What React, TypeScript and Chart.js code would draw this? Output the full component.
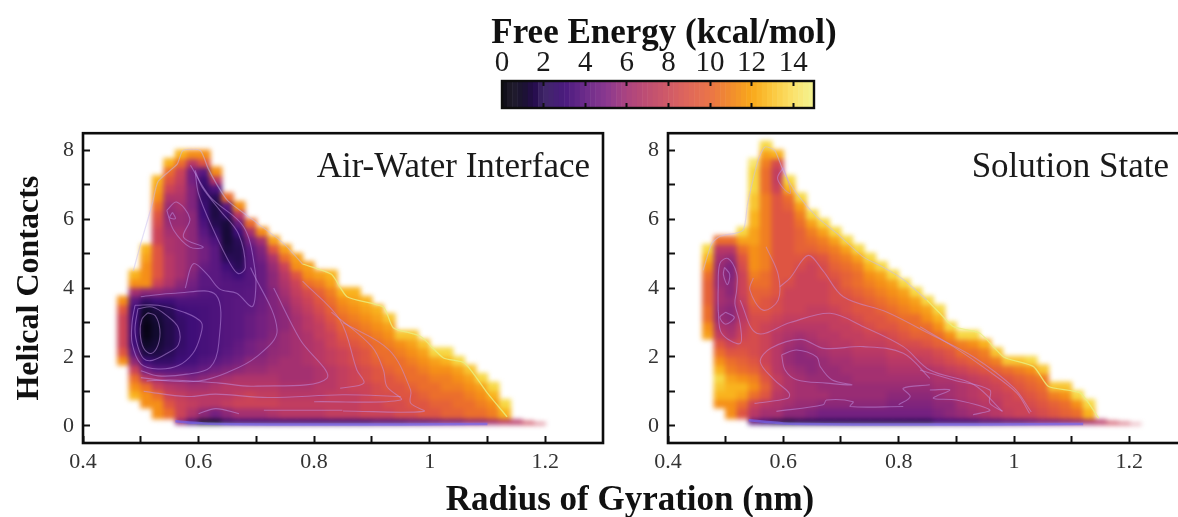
import React, { useEffect, useRef } from "react";
import { Chart, registerables } from "chart.js";
Chart.register(...registerables);

const SERIF = '"Liberation Serif", serif';

// ---------- axes ----------
const xTickValues = [0.4,0.5,0.6,0.7,0.8,0.9,1,1.1,1.2];
const yTickValues = [0,1,2,3,4,5,6,7,8];
const colorTickValues = [0,2,4,6,8,10,12,14];

// ---------- colour bar ----------
const colorLevels = [0,0.25,0.5,0.75,1,1.25,1.5,1.75,2,2.25,2.5,2.75,3,3.25,3.5,3.75,4,4.25,4.5,4.75,5,5.25,5.5,5.75,6,6.25,6.5,6.75,7,7.25,7.5,7.75,8,8.25,8.5,8.75,9,9.25,9.5,9.75,10,10.25,10.5,10.75,11,11.25,11.5,11.75,12,12.25,12.5,12.75,13,13.25,13.5,13.75,14,14.25,14.5,14.75];
const stopValues = [0,0.5,1,1.6,2,3,4,5,6,7,8,9,10,11,12,13,14,15];
const stopColors = ["#0c0a14","#211d2c","#1a1230","#260c4e","#402868","#4a1a7e","#6c2c8a","#8a3890","#ab4480","#bf4e72","#d05a68","#e0685a","#ea7448","#f18c2e","#f9a81a","#fbc83e","#fbe26c","#f3f392"];
const heatStopValues = [0,1,2,3,4,5,6,7,8,9,10,11,12,13,14,15];
const heatStopColors = ["#05030f","#120a30","#2a0c58","#3f0e78","#5a1880","#742080","#8c2878","#a43070","#b83866","#cb4358","#de5542","#eb6e2c","#f58f18","#f9b31e","#f7d845","#f8f29a"];

// ---------- Air-Water Interface: free energy by column, bottom row upward ----------
const airX = [0.47,0.49,0.51,0.53,0.55,0.57,0.59,0.61,0.63,0.65,0.67,0.69,0.71,0.73,0.75,0.77,0.79,0.81,0.83,0.85,0.87,0.89,0.91,0.93,0.95,0.97,0.99,1.01,1.03,1.05,1.07,1.09,1.11,1.13];
const airStart = [7,3,2,1,1,0,0,0,0,0,0,0,0,0,0,0,0,0,0,0,0,0,0,0,0,0,0,0,0,0,0,0,0,0];
const airColumns = [
  [12,10,9,9,9,9,10,12],
  [13,12,11,9,6,4,3,3,3,3,3,4,7,12,13],
  [12,12,11,8,5,3,1.5,0.8,0.3,0.2,0.5,1,2.5,6,12,12,12,12.5,13],
  [12,12,11,9,7,4,2.5,1.5,1.2,1,1,1.2,1.5,3,6,9,10,10,10,10,9,9,9.5,10,11,12,12.5,13],
  [11,10,9,8,6,4,2.5,2,1.7,1.7,1.7,1.8,2,3,5.5,7.5,8,8,8,7.5,7.5,7,6.5,6,6.5,7.5,9,10,11,13],
  [6,9,9,8.5,7.5,6,4,3,2.7,2.5,2.5,2.5,2.6,3,3.5,5,6,7,7,7,7,7,7,6.5,6.5,7,7.5,8,8.5,9,11,13],
  [3,7.5,8.5,8,7,5.5,4,3.2,3,3,3,3,3,3.2,3.5,4.5,5,5.5,6,6,6,6,6,6,6,5.5,5.5,5.5,5,5,8,12],
  [1,6,8,8,7,6,4.5,3.7,3.3,3.3,3.3,3.3,3.3,3.3,3.5,3.8,4,4,4.5,5,5,4.5,4,3.5,3,2.8,2.5,2.5,2.8,4,10,12],
  [1,5,8,8,7.5,6.5,5,4,3.5,3.5,3.5,3.5,3.5,3.5,3.5,3.7,4,4,4,4,4,3.5,2.5,1.8,1.5,1.5,2,3.5,8,12],
  [2.5,6,8.5,8,8,7,5.5,4.5,4,3.8,3.8,3.8,3.8,3.8,3.8,3.8,3.8,3.5,3,2,1.5,1.2,1.2,1.3,2.5,4,11],
  [3,7,9,8.5,8,7.5,6,5,4.5,4.3,4,4,4,4,4,3.8,3.7,3,2,1.8,1.8,2,3,4.5,8,12],
  [3,7,9,9,8,7.5,6.5,6,5,5,4.5,4.5,4.5,4.2,4,4,3.8,3.8,3.8,3.8,4,5,7,11],
  [3,7,9,8.5,8,7.5,6.5,6,5.5,5.5,5,5,5,4.8,4.7,4.5,4.5,4.5,4.5,5,5.5,7,12],
  [3,7.5,9,8.5,8,7.5,7,6.5,6.2,6,5.7,5.5,5.5,5.5,5.5,5.5,6,6,6.5,7.5,10,12.5],
  [3,8,8.5,8,7.5,7,7,7,6.5,6.5,6.5,6,6,6,6.5,7,7.5,8,9,11,12.5],
  [3,8,8.5,8,7.5,7,7,7,7,7,7,7,7,7.5,8,8.5,9,10,12,12.5],
  [3,8,8.5,8,7.5,7,7,7.5,7.5,7.5,7.5,8,8,8.5,9,9.5,11,12,12.5],
  [3,8,8.5,8,8,7.5,7.5,8,8,8,8.5,8.5,9,9.5,10,10.5,11.5,12.5],
  [3,8.5,8.5,8.5,8,8,8,8.5,8.5,9,9,9.5,10,10.5,11,11.5,12.5,13],
  [3,8.5,8.5,8.5,8.5,8.5,8.5,9,9,9.5,10,10.5,11,11.5,12,13],
  [3,8.5,8.5,8.5,9,9,9,9.5,9.5,10,10.5,11,11.5,12,12.5,13],
  [3,9,9,9,9,9.5,9.5,10,10,10.5,11,11.5,12,12.5,13],
  [3.5,9,9,9.5,9.5,10,10,10.5,11,11,11.5,12,12.5,13],
  [3.5,9,9.5,9.5,10,10,10.5,11,11,11.5,12,12.5,13.5],
  [3.5,9.5,9.5,10,10,10.5,11,11,11.5,12,13.5],
  [4,9.5,10,10,10.5,11,11,11.5,12,12.5,13.5],
  [4,10,10,10.5,11,11,11.5,12,12.5,13.5],
  [4.5,10,10.5,11,11,11.5,12,12.5,14],
  [5,10.5,10.5,11,11.5,11.5,12,13,14],
  [5,10.5,11,11,11.5,12,12.5,14],
  [6,11,11,11.5,12,12.5,13.5],
  [6,11,11.5,12,12.5,14],
  [7,11.5,12,13,14],
  [8,13,14],
];
const airTailX = [1.15,1.17,1.19];
const airTailTop = [0.18,0.13,0.09];
const airTailValue = [8,9,9];

// ---------- Solution State ----------
const solX = [0.47,0.49,0.51,0.53,0.55,0.57,0.59,0.61,0.63,0.65,0.67,0.69,0.71,0.73,0.75,0.77,0.79,0.81,0.83,0.85,0.87,0.89,0.91,0.93,0.95,0.97,0.99,1.01,1.03,1.05,1.07,1.09,1.11,1.13];
const solStart = [10,2,1,1,0,0,0,0,0,0,0,0,0,0,0,0,0,0,0,0,0,0,0,0,0,0,0,0,0,0,0,0,0,0];
const solColumns = [
  [12.5,12,11,11,10.5,10.5,10.5,11,12,13,14],
  [12,13,13.5,14,13,12,11,10,8.5,7.5,6.5,6.5,7,7,6.5,6.5,6.5,7,8,11],
  [12,12,13,13,12.5,11.5,11,10,9,7.5,7,6,6,6.5,6,6,5.5,5.5,6.5,8,11],
  [10,11,12.5,13,12,11,10.5,10,9.5,9,8.5,8,8,8.5,9,9,9,9.5,10,11,12.5,14],
  [4,8,9,11,12,11.5,10.5,10,9.5,9.5,9.5,9.5,9.5,10,10.5,10.5,11,11.5,12,12,12,12.5,12.5,13,13,13.5,13.5,14,14,14,14.5],
  [3,7,8,10,10.5,10,9.5,9,9,9,9,9,9.5,10,10,10.5,11,11,11.5,11.5,11.5,11.5,11.5,11.5,11.5,11.5,11.5,11,11,11,11.5,12.5,14],
  [2,7,7.5,8,8.5,8.5,8,8,8,8,8,8.5,9,9.5,9.5,10,10,10,10,10,10,10,10,10,10,10,10,9,8.5,8.5,9.5,13],
  [1.5,6,7,7.5,7.5,7.5,7,6.5,6.5,7,7.5,8,8.5,9,9,9,9.5,10,10,10,10,10,10,10,10,10.5,11,13,14],
  [2,6,6.5,7,7,7,6.5,6,6,6.5,7,8,8.5,9,9,9,9,9,9.5,10,10.5,10.5,10.5,11,11.5,12.5,14],
  [2,5.5,6.5,7,7,6.5,6,6,6.5,7,7.5,8,8.5,8.5,9,9,9,9,9,9.5,10.5,11,11.5,12.5,14],
  [2,5,6,7,6.5,6.5,6.5,6.5,7,7.5,8,8,8.5,8.5,9,9,9,9.5,9.5,10,11,11.5,12.5,14],
  [2,5,6,6.5,6.5,6.5,6.5,7,7.5,8,8,8.5,8.5,9,9.5,9.5,9.5,10,10.5,11,11.5,12.5,14],
  [2,5,6,6.5,6.5,6.5,7,7,7.5,8,8.5,8.5,9,9.5,9.5,10,10.5,10.5,11,11.5,12.5,14],
  [2,5,6,6.5,6.5,7,7,7.5,8,8.5,8.5,9,9.5,10,10,10.5,11,11,11.5,12.5,14],
  [2,5,6,6.5,6.5,7,7,7.5,8,8.5,9,9.5,10,10,10.5,11,11.5,12,13,14],
  [2,5,6,6.5,6.5,7,7,7.5,8,8.5,9,10,10,10.5,11,11.5,12,12.5,14],
  [2,5,5.5,6,6.5,7,7.5,8,8.5,9,9.5,10,10.5,11,11.5,12,12.5,14],
  [2,5,5.5,6,6.5,7,7.5,8,8.5,9.5,10,10.5,11,11.5,12,12.5,14],
  [2,5,5.5,6,6.5,7,7.5,8,9,9.5,10.5,11,11,12,12.5,14],
  [2,5,5.5,6,6.5,7,7.5,8.5,9,10,10.5,11,12,12.5,14],
  [3,5.5,6,6.5,7,7.5,8,9,9.5,10.5,11,12,13,14],
  [3,6,6,7,7,7.5,8.5,9.5,10,11,12,14],
  [3,6.5,7,7.5,7.5,8,9,10,11,11.5,14],
  [3,7,7.5,8,8,8.5,9.5,10.5,11,12,14],
  [3.5,7.5,8,8.5,8.5,9,10,11,11.5,13],
  [3.5,8,8,8.5,9,9.5,10.5,11.5,13.5],
  [4,8.5,9,9,9.5,10,11,13.5],
  [4,9,9,9.5,10,10.5,11.5,13.5],
  [4.5,9,9.5,10,10.5,11,12,14],
  [5,9.5,10,10.5,11,11.5,13.5],
  [5,10,10.5,11.5,13.5],
  [5.5,10.5,11,12,13.5],
  [6,11,12,14],
  [7,13,14],
];
const solTailX = [1.15,1.17,1.19,1.21];
const solTailTop = [0.18,0.13,0.1,0.07];
const solTailValue = [8,9,9,9];

// ---------- contour lines, [x, y] ----------
const airContours: number[][][] = [
  [[.512,3.28],[.525,3.2],[.533,2.8],[.53,2.35],[.518,2.1],[.505,2.25],[.499,2.7],[.502,3.1],[.512,3.28]],
  [[.495,3.4],[.52,3.45],[.545,3.2],[.565,2.85],[.565,2.35],[.545,2.1],[.52,1.9],[.505,1.95],[.495,2.3],[.49,2.8],[.495,3.4]],
  [[.49,3.5],[.53,3.5],[.575,3.3],[.605,3],[.603,2.6],[.59,2.1],[.565,1.75],[.53,1.65],[.5,1.8],[.485,2.4],[.485,3],[.49,3.5]],
  [[.5,3.75],[.56,3.85],[.63,3.8],[.635,2.4],[.62,1.7],[.58,1.5],[.53,1.45],[.5,1.6]],
  [[.69,4.6],[.736,2.78],[.7,2],[.65,1.55],[.6,1.3],[.55,1.3],[.5,1.4]],
  [[.73,4],[.776,2.5],[.822,1.38],[.695,1.15],[.637,1.24],[.55,1.33],[.51,1.3]],
  [[.505,1],[.58,.85],[.63,.92],[.72,.82],[.85,.9],[.95,.85]],
  [[.713,.45],[.849,.45]],
  [[.594,7.42],[.606,6.94],[.637,6.26],[.669,5.58],[.681,4.6],[.669,4.42],[.655,4.7],[.626,5.68],[.6,6.74],[.594,7.42]],
  [[.586,7.57],[.62,6.65],[.678,5.78],[.698,4.5],[.698,3.75],[.692,3.46],[.666,3.85],[.637,3.97],[.615,4.4],[.591,4.71],[.577,4]],
  [[.545,6.26],[.562,6.5],[.585,6.02],[.574,5.48],[.608,5.19],[.585,5.19],[.557,5.68],[.545,6.26]],
  [[.555,6.2],[.56,6.02],[.55,6.05],[.555,6.2]],
  [[.78,4.2],[.845,3.07],[.874,1.62],[.886,1.24],[.845,1.09]],
  [[.83,3.3],[.9,2.3],[.92,1.62],[.926,1.14],[.95,.75],[.8,.7]],
  [[.85,3],[.93,2.2],[.967,1.04],[.967,.66],[.99,.42],[.85,.43]],
  [[.6,.35],[.63,.5],[.67,.35]],
];
const solContours: number[][][] = [
  [[.594,4.04],[.612,4.3],[.643,4.95],[.669,4.5],[.704,3.75],[.78,3.3],[.85,2.7],[.93,2],[1,1.1],[1.03,.4]],
  [[.525,3.65],[.554,2.69],[.612,3],[.681,3.27],[.739,2.88],[.808,2.3],[.854,1.62],[.93,1.2],[.98,.42]],
  [[.548,4.3],[.542,3.94],[.565,3.36],[.591,3.65],[.591,4.4],[.57,5.2]],
  [[.487,3.36],[.493,2.69],[.525,2.39],[.525,2.97],[.516,3.55],[.519,3.94],[.519,4.43],[.504,4.86],[.49,4.72],[.487,3.94],[.487,3.36]],
  [[.5,3.3],[.515,3.15],[.5,2.95],[.49,3.15],[.5,3.3]],
  [[.498,4.6],[.507,4.4],[.503,4.1],[.496,4.4],[.498,4.6]],
  [[.55,.65],[.608,.8],[.61,.95],[.584,1.34],[.56,1.86],[.578,2.25],[.63,2.51],[.67,2.25],[.739,2.3],[.808,2.11],[.854,1.38]],
  [[.597,2.06],[.623,2.2],[.658,2],[.664,1.72],[.684,1.34],[.719,1.19],[.675,1.24],[.623,1.34],[.603,1.62],[.597,2.06]],
  [[.854,1.19],[.808,1.09],[.82,.85],[.8,.61]],
  [[.588,.42],[.669,.61],[.675,.75],[.721,.7],[.716,.56],[.808,.56]],
  [[.837,2.88],[.895,2.3],[.953,1.63],[1.005,.95],[1.027,.36]],
  [[.837,1.62],[.895,1.33],[.958,1.04],[.958,.66],[.98,.42]],
  [[.854,1.04],[.889,1.04],[.86,.8],[.9,.75],[.958,.46],[.929,.32]],
  [[.6,7.5],[.59,7.2],[.6,6.9],[.612,6.75],[.61,7],[.6,7.5]],
];
const airEdgeUpper = [[.487,4.5],[.5,5.3],[.52,6.45],[.53,7.1],[.563,7.6],[.573,8],[.603,8],[.616,7.5],[.632,7],[.65,6.55],[.695,5.97],[.747,5.3],[.78,4.7]];
const airEdgeLower = [[.78,4.7],[.83,4.4],[.857,3.75],[.92,3.45],[.937,2.85],[.984,2.6],[1.024,1.97],[1.06,1.83],[1.1,.95],[1.134,.26]];
const solEdgeUpper = [[.461,4.52],[.476,5.3],[.49,5.5],[.53,5.68],[.538,6.45],[.556,7.7],[.568,8.1],[.585,8],[.6,7.4],[.623,6.75],[.658,6.07],[.692,5.6],[.739,4.9],[.774,4.6],[.808,4.25],[.849,3.65]];
const solEdgeLower = [[.849,3.65],[.872,3.26],[.895,2.88],[.941,2.69],[.982,2],[1.034,1.72],[1.06,1.14],[1.115,.95],[1.147,.22]];
const airBase = [[.56,.13],[.62,.06],[.75,.04],[.95,.04],[1.1,.05]];
const solBase = [[.54,.16],[.6,.07],[.75,.04],[.95,.04],[1.12,.05]];

const hexRgb = (h: string) => [1, 3, 5].map((i) => parseInt(h.slice(i, i + 2), 16));
function ramp(values: number[], colors: string[], v: number) {
  let i = 0;
  while (i < values.length - 2 && v > values[i + 1]) i++;
  const t = Math.min(1, Math.max(0, (v - values[i]) / (values[i + 1] - values[i])));
  const a = hexRgb(colors[i]), b = hexRgb(colors[i + 1]);
  return `rgb(${a.map((c, k) => Math.round(c + (b[k] - c) * t)).join(",")})`;
}
const colorOf = (v: number) => ramp(stopValues, stopColors, v);
const heatColorOf = (v: number) => ramp(heatStopValues, heatStopColors, v);

const ROW = 0.25;
function heatDataset(xs: number[], starts: number[], cols: number[][], tx: number[], tt: number[], tv: number[]) {
  const data: any[] = [], colors: string[] = [];
  xs.forEach((x, c) => {
    cols[c].forEach((v, k) => {
      const r = starts[c] + k;
      const lo = r === 0 ? 0.03 : r === 1 ? 0.19 : r * ROW;
      const hi = r === 0 ? 0.2 : (r + 1) * ROW + 0.03;
      data.push({ x, y: [lo, hi] });
      colors.push(heatColorOf(v));
    });
  });
  tx.forEach((x, i) => { data.push({ x, y: [0.03, tt[i]] }); colors.push(heatColorOf(tv[i])); });
  return { type: "bar", data, backgroundColor: colors, barPercentage: 1.1, categoryPercentage: 1, borderWidth: 0, order: 10 };
}
const line = (pts: number[][], color: string, width: number, tension = 0.35) => ({
  type: "line", data: pts.map(([x, y]) => ({ x, y })), borderColor: color, borderWidth: width,
  pointRadius: 0, tension, fill: false, order: 1,
});

const softenHeat = {
  id: "softenHeat",
  afterDatasetDraw(chart: any, args: any) {
    if (args.meta.type !== "bar") return;
    const { ctx, canvas, chartArea: a } = chart;
    const tmp = document.createElement("canvas");
    tmp.width = canvas.width; tmp.height = canvas.height;
    tmp.getContext("2d")!.drawImage(canvas, 0, 0);
    ctx.save();
    ctx.beginPath(); ctx.rect(a.left, a.top, a.right - a.left, a.bottom - a.top); ctx.clip();
    ctx.clearRect(a.left, a.top, a.right - a.left, a.bottom - a.top);
    ctx.filter = "blur(2.4px)";
    ctx.drawImage(tmp, 0, 0);
    ctx.restore();
  },
};
const frame = (lw: number) => ({
  id: "frame",
  afterDraw(chart: any) {
    const { ctx, chartArea: a } = chart;
    ctx.save(); ctx.strokeStyle = "#0d0d0d"; ctx.lineWidth = lw;
    ctx.strokeRect(a.left, a.top, a.right - a.left, a.bottom - a.top);
    ctx.restore();
  },
});
const panelLabel = (text: string, right: number, baseline: number) => ({
  id: "panelLabel",
  afterDraw(chart: any) {
    const { ctx } = chart;
    ctx.save(); ctx.font = `35px ${SERIF}`; ctx.fillStyle = "#1a1a1a"; ctx.textAlign = "right";
    ctx.fillText(text, right, baseline);
    ctx.restore();
  },
});
const setTicks = (vals: number[]) => (s: any) => { s.ticks = vals.map((value) => ({ value })); };

function panelConfig(o: any) {
  const tickFont = { family: SERIF, size: 22 };
  return {
    type: "bar",
    data: { datasets: o.datasets },
    plugins: [softenHeat, frame(2.6), panelLabel(o.label, o.labelRight, o.labelBase)],
    options: {
      animation: false, responsive: false,
      layout: { padding: { top: 13, right: o.padRight, left: 0, bottom: 0 } },
      plugins: { legend: { display: false }, tooltip: { enabled: false } },
      scales: {
        x: {
          type: "linear", min: 0.4, max: 1.3, position: "bottom", offset: false, bounds: "data",
          afterBuildTicks: setTicks(xTickValues),
          afterFit: (s: any) => { s.height = 74; },
          border: { display: false },
          grid: { drawOnChartArea: false, tickLength: -7, tickWidth: 2, tickColor: "#111", z: 1, offset: false },
          ticks: {
            padding: 13, color: "#333", font: tickFont, autoSkip: false, maxRotation: 0,
            callback: (v: number) => { const n = Math.round(v * 10); return n % 2 === 0 ? String(n / 10) : ""; },
          },
        },
        y: {
          type: "linear", min: -0.5, max: 8.5, bounds: "data", beginAtZero: false,
          afterBuildTicks: setTicks(yTickValues),
          afterFit: (s: any) => { s.width = o.axisWidth; },
          border: { display: false },
          title: o.yTitle ? { display: true, text: o.yTitle, font: { family: SERIF, size: 32, weight: "bold" }, color: "#111", padding: { top: 11, bottom: 0 } } : { display: false },
          grid: { drawOnChartArea: false, tickLength: -7, tickWidth: 2, tickColor: "#111", z: 1 },
          ticks: {
            padding: 16, color: "#333", font: tickFont, autoSkip: false,
            callback: (v: number) => (Math.round(v) % 2 === 0 ? String(Math.round(v)) : ""),
          },
        },
      },
    },
  };
}

const CONTOUR = "rgba(196,150,232,0.5)";
function panelSets(heat: any, contours: number[][][], upper: number[][], lower: number[][], base: number[][]) {
  return [
    heat,
    ...contours.map((c) => line(c, CONTOUR, 1.1)),
    line(upper, "rgba(200,190,240,0.5)", 1.2, 0.2),
    line(lower, "rgba(232,240,130,0.8)", 1.3, 0.2),
    line(base, "rgba(120,100,235,0.7)", 2.5, 0.2),
  ];
}

function useChart(make: () => any) {
  const ref = useRef<HTMLCanvasElement>(null);
  useEffect(() => {
    const chart = new Chart(ref.current as any, make());
    return () => chart.destroy();
  }, []);
  return ref;
}

const canvasStyle = (left: number, top: number): React.CSSProperties => ({
  position: "absolute", left, top, display: "block", filter: "blur(0.45px)",
});
const heading = (left: number, top: number): React.CSSProperties => ({
  position: "absolute", left, top, width: 600, textAlign: "center", font: `bold 35px ${SERIF}`, lineHeight: "40px", color: "#111", filter: "blur(0.45px)",
});

export default function App() {
  const barRef = useChart(() => ({
    type: "bar",
    data: {
      datasets: [{
        data: colorLevels.map((v) => ({ x: v + 0.125, y: [0, 1] })),
        backgroundColor: colorLevels.map((v) => colorOf(v + 0.125)),
        barPercentage: 1.1, categoryPercentage: 1, borderWidth: 0,
      }],
    },
    plugins: [frame(2.4)],
    options: {
      animation: false, responsive: false,
      layout: { padding: { left: 22, right: 36, top: 0, bottom: 0 } },
      plugins: { legend: { display: false }, tooltip: { enabled: false } },
      scales: {
        x: {
          type: "linear", position: "top", min: 0, max: 15, offset: false, bounds: "data",
          afterBuildTicks: setTicks(colorTickValues),
          afterFit: (s: any) => { s.height = 81; },
          border: { display: false },
          grid: { drawOnChartArea: false, tickLength: -5, tickWidth: 2, tickColor: "#111", z: 1, offset: false },
          ticks: { padding: 5, color: "#1a1a1a", font: { family: SERIF, size: 29 }, autoSkip: false, maxRotation: 0 },
        },
        x2: {
          type: "linear", position: "bottom", min: 0, max: 15, offset: false, bounds: "data",
          afterBuildTicks: setTicks(colorTickValues),
          afterFit: (s: any) => { s.height = 7; },
          border: { display: false },
          grid: { drawOnChartArea: false, tickLength: -5, tickWidth: 2, tickColor: "#111", z: 1, offset: false },
          ticks: { display: false },
        },
        y: { display: false, min: 0, max: 1, bounds: "data" },
      },
    },
  }));
  const airRef = useChart(() => panelConfig({
    datasets: panelSets(heatDataset(airX, airStart, airColumns, airTailX, airTailTop, airTailValue), airContours, airEdgeUpper, airEdgeLower, airBase),
    label: "Air-Water Interface", labelRight: 590, labelBase: 73,
    padRight: 17, axisWidth: 83, yTitle: "Helical Contacts",
  }));
  const solRef = useChart(() => panelConfig({
    datasets: panelSets(heatDataset(solX, solStart, solColumns, solTailX, solTailTop, solTailValue), solContours, solEdgeUpper, solEdgeLower, solBase),
    label: "Solution State", labelRight: 529, labelBase: 73,
    padRight: 13, axisWidth: 28,
  }));
  return (
    <div style={{ position: "fixed", left: 0, top: 0, width: 1178, height: 517, overflow: "hidden", background: "#fff" }}>
      <div style={heading(364, 12)}>Free Energy (kcal/mol)</div>
      <canvas ref={barRef} width={370} height={115} style={canvasStyle(480, 0)} />
      <canvas ref={airRef} width={620} height={413} style={canvasStyle(0, 104)} />
      <canvas ref={solRef} width={560} height={413} style={canvasStyle(640, 104)} />
      <div style={heading(330, 479)}>Radius of Gyration (nm)</div>
    </div>
  );
}
